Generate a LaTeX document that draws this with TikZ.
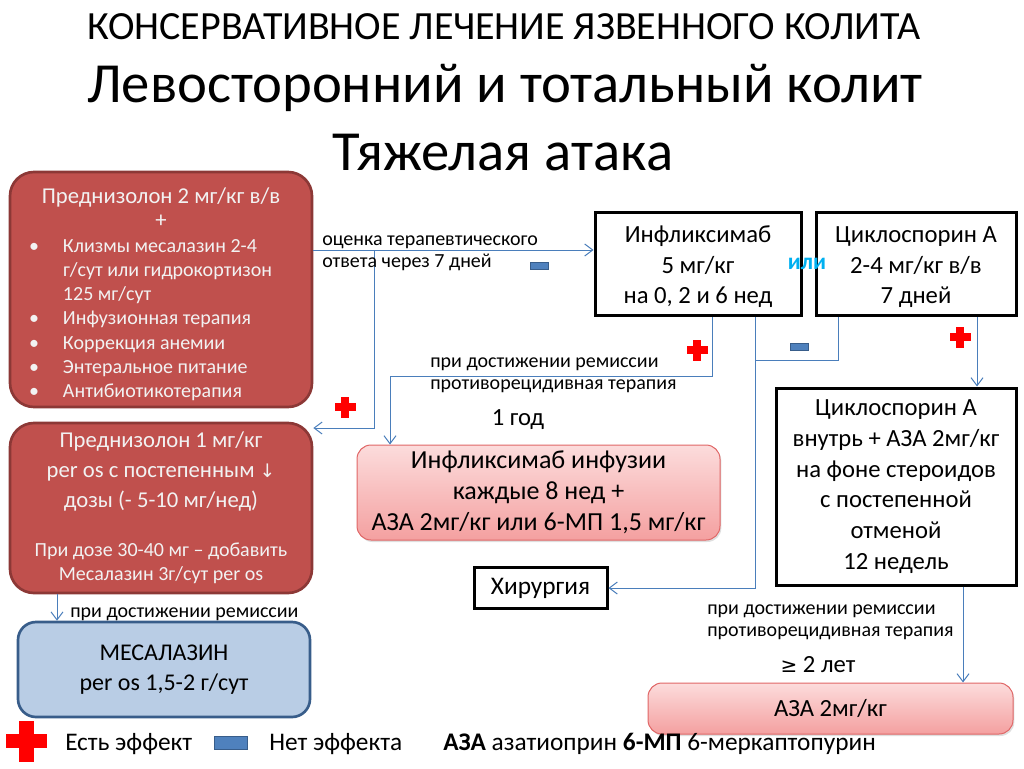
\documentclass[tikz,border=0pt]{standalone}
\usepackage{fontspec}
\setmainfont{Carlito}
\newfontfamily\symfont{DejaVu Sans}
\usetikzlibrary{arrows.meta,shadows}
\newlength\pxu
\setlength\pxu{0.75pt}
\definecolor{redfill}{HTML}{C0504D}
\definecolor{redline}{HTML}{8C3836}
\definecolor{bluefill}{HTML}{B9CDE5}
\definecolor{blueline}{HTML}{385D8A}
\definecolor{connline}{HTML}{4A7EBB}
\definecolor{pinktop}{HTML}{FCDCDC}
\definecolor{pinkbot}{HTML}{F4A0A0}
\definecolor{pinkline}{HTML}{E06666}
\definecolor{orblue}{HTML}{00B0F0}
\definecolor{minusfill}{HTML}{4F81BD}

\begin{document}
\begin{tikzpicture}[x=0.75pt,y=-0.75pt,
    redbox/.style={draw=redline,line width=2pt,fill=redfill,rounded corners=24\pxu,text=white!95!black,inner sep=0pt},
    bluebox/.style={draw=blueline,line width=2pt,fill=bluefill,rounded corners=18\pxu,inner sep=0pt},
    blackbox/.style={draw=black,line width=2.25pt,fill=white,inner sep=0pt},
    pinkbox/.style={draw=pinkline,line width=0.75pt,top color=pinktop,bottom color=pinkbot,rounded corners=14\pxu,inner sep=0pt,
        drop shadow={opacity=0.25,shadow xshift=1pt,shadow yshift=-1.5pt}},
    conn/.style={draw=connline,line width=0.75pt},
    arr/.style={conn,-{Straight Barb[length=6pt,width=9pt]}},
    lbl/.style={font=\fontsize{15}{16.5}\selectfont,align=flush left,anchor=west,inner sep=0pt},
    bigtxt/.style={font=\fontsize{18.5}{23}\selectfont},
    legtxt/.style={font=\fontsize{19}{23}\selectfont,anchor=west,inner sep=0pt},
    redplus/.pic={
        \fill[red] (-#1,-#1*0.36) rectangle (#1,#1*0.36);
        \fill[red] (-#1*0.36,-#1) rectangle (#1*0.36,#1);
    },
    bluminus/.pic={
        \filldraw[fill=minusfill,draw=blueline,line width=0.5pt] (-#1,-#1*0.38) rectangle (#1,#1*0.38);
    }
]
\useasboundingbox (0,0) rectangle (1024,768);

% title
\node[font=\fontsize{30}{34}\selectfont] (t1) at (504,27) {КОНСЕРВАТИВНОЕ ЛЕЧЕНИЕ ЯЗВЕННОГО КОЛИТА};
\node[font=\fontsize{42.5}{48}\selectfont] (t2) at (505,88) {Левосторонний и тотальный колит};
\node[font=\fontsize{42.5}{48}\selectfont] (t3) at (503,153) {Тяжелая атака};

% left column
\node[redbox,minimum width=302\pxu,minimum height=235\pxu,text width=302\pxu,align=flush left,
    font=\fontsize{15}{18.2}\selectfont] (pred) at (161,289.5) {%
    {\fontsize{17}{19.5}\selectfont\rule{0pt}{19pt}\makebox[\linewidth]{Преднизолон 2 мг/кг в/в}\\
    \makebox[\linewidth]{+}}\\
    \hspace*{19\pxu}\makebox[34\pxu][l]{\textbullet}Клизмы месалазин 2-4\\
    \hspace*{53\pxu}г/сут или гидрокортизон\\
    \hspace*{53\pxu}125 мг/сут\\
    \hspace*{19\pxu}\makebox[34\pxu][l]{\textbullet}Инфузионная терапия\\
    \hspace*{19\pxu}\makebox[34\pxu][l]{\textbullet}Коррекция анемии\\
    \hspace*{19\pxu}\makebox[34\pxu][l]{\textbullet}Энтеральное питание\\
    \hspace*{19\pxu}\makebox[34\pxu][l]{\textbullet}Антибиотикотерапия};

\node[redbox,minimum width=302\pxu,minimum height=170\pxu,text width=302\pxu,align=flush center,
    font=\fontsize{17}{22.5}\selectfont] (pred2) at (161,508) {%
    Преднизолон 1 мг/кг\\
    per os с постепенным {\symfont\fontsize{14}{16}\selectfont ↓}\\
    дозы (- 5-10 мг/нед)\par\vspace{19pt}
    {\fontsize{15}{18}\selectfont При дозе 30-40 мг – добавить\\
    Месалазин 3г/сут per os\par}};

\node[bluebox,font=\fontsize{18}{23}\selectfont,minimum width=292\pxu,minimum height=95\pxu,text width=292\pxu,align=flush center] (mes) at (164,669.5)
    {МЕСАЛАЗИН\\per os 1,5-2 г/сут};

% right part
\node[blackbox,bigtxt,minimum width=206\pxu,minimum height=103\pxu,text width=206\pxu,align=flush center] (infl) at (698,264)
    {\rule{0pt}{17pt}Инфликсимаб\\5 мг/кг\\на 0, 2 и 6 нед};
\node[blackbox,bigtxt,minimum width=200\pxu,minimum height=103\pxu,text width=200\pxu,align=flush center] (cyc) at (916,264)
    {\rule{0pt}{17pt}Циклоспорин А\\2-4 мг/кг в/в\\7 дней};
\node[font=\fontsize{17.5}{20}\selectfont\bfseries,text=orblue] (ili) at (807,264) {или};

\node[blackbox,bigtxt,minimum width=240\pxu,minimum height=197\pxu,text width=240\pxu,align=flush center] (cycin) at (896,486.5)
    {Циклоспорин А\\внутрь + АЗА 2мг/кг\\на фоне стероидов\\с постепенной\\отменой\\12 недель};

\node[pinkbox,font=\fontsize{19.5}{23.3}\selectfont,minimum width=363\pxu,minimum height=95\pxu,text width=363\pxu,align=flush center] (pink) at (538.5,492.5)
    {Инфликсимаб инфузии\\каждые 8 нед +\\АЗА 2мг/кг или 6-МП 1,5 мг/кг};

\node[blackbox,font=\fontsize{19}{23}\selectfont,minimum width=133\pxu,minimum height=41\pxu] (surg) at (540.5,588) {Хирургия};

\node[pinkbox,font=\fontsize{18.5}{23}\selectfont,minimum width=365\pxu,minimum height=51\pxu] (aza) at (830.5,708.5) {АЗА 2мг/кг};

% connectors
\coordinate (a1) at (374,250);
\coordinate (a2) at (374,428);
\draw[arr] (pred.east |- a1) -- (infl.west |- a1);
\draw[arr] (a1) -- (a2) -- (pred2.east |- a2);

\coordinate (b1) at (712,376);
\coordinate (b2) at (390,376);
\draw[arr] (infl.south -| b1) -- (b1) -- (b2) -- (b2 |- pink.north);

\coordinate (d1) at (755,588);
\coordinate (d2) at (755,360);
\coordinate (e1) at (838,360);
\draw[arr] (infl.south -| d1) -- (d1) -- (surg.east);
\draw[conn] (cyc.south -| e1) -- (e1) -- (d2);

\draw[arr] ([xshift=61\pxu]cyc.south) -- ([xshift=61\pxu]cyc.south |- cycin.north);
\draw[arr] ([xshift=67\pxu]cycin.south) -- ([xshift=67\pxu]cycin.south |- aza.north);
\draw[arr] ([xshift=-104\pxu]pred2.south) -- ([xshift=-104\pxu]pred2.south |- mes.north);

% labels
\node[lbl] (l1) at (322,253) {оценка терапевтического\\ответа через 7 дней};
\node[lbl] (l2) at (430,375.5) {при достижении ремиссии\\противорецидивная терапия};
\node[lbl] (l3) at (707,622.5) {при достижении ремиссии\\противорецидивная терапия};
\node[lbl] (l4) at (70,614) {при достижении ремиссии};
\node[bigtxt] (god) at (518,420) {1 год};
\node[bigtxt] (let) at (818,665) {{\symfont\fontsize{15}{16}\selectfont ≥} 2 лет};

% effect marks
\pic at (697,350) {redplus=10.5};
\pic at (960,337) {redplus=10.5};
\pic at (345,407) {redplus=10.5};
\pic at (539,266) {bluminus=9};
\pic at (799,347) {bluminus=9};

% legend
\pic at (26.5,741) {redplus=20.5};
\node[legtxt] (yes) at (65,744) {Есть эффект};
\pic at (230.5,743) {bluminus=16.5};
\node[legtxt] (no) at (269,744) {Нет эффекта};
\node[legtxt] (abbr) at (443,744) {\textbf{АЗА} азатиоприн \textbf{6-МП} 6-меркаптопурин};
\end{tikzpicture}
\end{document}
